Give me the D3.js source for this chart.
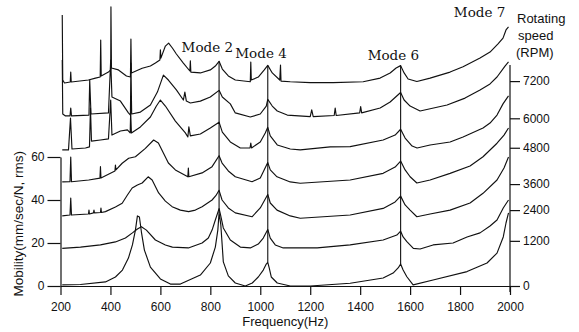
<!DOCTYPE html>
<html>
<head>
<meta charset="utf-8">
<script src="https://cdn.jsdelivr.net/npm/d3@7"></script>
<style>
  body { margin: 0; background: #fff; }
  svg { display: block; }
</style>
</head>
<body>
<div id="chart"></div>
<script>
// tick values
const freqTicks = [200, 400, 600, 800, 1000, 1200, 1400, 1600, 1800, 2000]
const mobilityTicks = [0, 20, 40, 60]
const rpmSpeeds = [0, 1200, 2400, 3600, 4800, 6000, 7200]
// mobility level (left axis units) where each rpm tick sits
const rpmLevels = [0, 21, 35.3, 47.4, 64.3, 78, 95.3]
// resonance frequencies marked through the stack
const modeFreqs = [835, 1030, 1562]

// spectra, [frequency Hz, mobility incl. waterfall offset]
const spectrum0 = [
  [207, 0.5], [280, 0.7], [380, 1.9], [420, 4.2], [448, 7.4], [472, 13.0], [488, 19.1],
  [500, 26.0], [508, 32.6], [516, 32.1], [524, 25.1], [536, 16.7], [560, 8.8], [600, 3.3],
  [640, 0.9], [680, 0.9], [760, 5.1], [800, 10.7], [820, 18.1], [830, 26.0], [835, 34.0],
  [842, 28.4], [852, 11.2], [872, 4.7], [900, 1.4], [940, 0], [968, 1.4], [992, 4.2],
  [1012, 7.4], [1024, 10.2], [1030, 11.0], [1036, 8.3], [1044, 4.2], [1068, 1.4], [1120, 0], [1200, 0],
  [1360, 1.3], [1492, 3.7], [1532, 6.0], [1552, 8.4], [1562, 10.2], [1572, 7.4], [1587, 4.3],
  [1612, 0.5], [1692, 2.8], [1828, 6.7], [1908, 10.7], [1948, 15.3], [1973, 22.8],
  [1984, 29.3], [1994, 34.0]
]
const spectrum1200 = [
  [207, 17.5], [280, 18.1], [360, 19.1], [420, 20.5], [460, 22.3], [488, 24.7], [508, 26.5],
  [524, 27.6], [544, 26.0], [580, 21.4], [620, 19.1], [648, 18.1], [712, 17.7], [767, 20.0],
  [792, 22.3], [807, 26.0], [820, 30.7], [835, 36.0], [840, 33.5], [852, 27.0], [880, 21.4],
  [920, 18.1], [960, 17.7], [992, 19.5], [1012, 22.3], [1030, 26.3], [1040, 22.3],
  [1060, 19.1], [1092, 17.7], [1228, 17.7], [1360, 19.1], [1492, 21.4], [1547, 23.7],
  [1562, 25.5], [1572, 22.8], [1587, 20.6], [1613, 17.5], [1640, 17.2], [1692, 19.1],
  [1772, 20.0], [1828, 22.8], [1880, 24.7], [1920, 27.9], [1948, 30.7], [1973, 36.3],
  [1994, 40.0]
]
const spectrum2400 = [
  [207, 32.6], [238, 33.0], [241, 40.9], [244, 33.0], [312, 33.5], [314, 35.3], [316, 33.5],
  [332, 34.0], [334, 35.3], [336, 34.0], [360, 34.2], [362, 36.3], [364, 34.2], [380, 34.6],
  [420, 36.7], [447, 38.5], [468, 42.3], [487, 45.6], [508, 47.0], [527, 47.9], [551, 50.8],
  [567, 49.3], [593, 43.3], [620, 39.5], [647, 36.9], [680, 35.3], [713, 34.6], [740, 35.3],
  [767, 36.9], [807, 40.0], [822, 42.0], [835, 44.5], [847, 40.0], [872, 36.3], [900, 34.0],
  [967, 32.2], [1000, 36.3], [1030, 42.6], [1040, 38.6], [1067, 35.3], [1120, 32.6],
  [1160, 31.5], [1360, 33.0], [1492, 36.1], [1540, 39.1], [1562, 41.8], [1580, 37.7],
  [1600, 35.3], [1627, 32.2], [1680, 33.5], [1760, 35.3], [1840, 38.6], [1892, 43.1],
  [1948, 49.3], [1976, 54.9], [1994, 60.0]
]
const spectrum3600 = [
  [207, 48.4], [238, 48.5], [241, 60.0], [244, 48.5], [313, 49.3], [358, 50.2], [360, 55.5],
  [362, 50.2], [418, 53.5], [420, 56.3], [422, 54.0], [447, 57.1], [473, 59.4], [500, 60.1],
  [540, 64.0], [573, 67.9], [592, 66.5], [612, 61.9], [632, 57.2], [660, 54.0], [710, 50.8],
  [712, 54.9], [714, 50.8], [767, 52.6], [807, 55.5], [835, 60.6], [847, 57.2], [872, 53.5],
  [900, 50.8], [967, 48.5], [1000, 50.2], [1030, 57.4], [1040, 54.0], [1067, 50.8],
  [1120, 48.4], [1160, 47.8], [1360, 49.3], [1492, 52.4], [1540, 55.3], [1562, 58.1],
  [1580, 54.0], [1600, 50.8], [1627, 47.9], [1680, 49.3], [1760, 52.4], [1840, 55.8],
  [1892, 60.1], [1948, 66.4], [1976, 70.2], [1994, 73.5]
]
const spectrum4800 = [
  [207, 63.3], [232, 63.3], [240, 78.1], [246, 63.7], [300, 64.2], [316, 64.7], [320, 82.8],
  [324, 67.4], [360, 67.9], [392, 68.4], [401, 86.5], [406, 70.2], [440, 72.1], [468, 72.6],
  [479, 71.2], [481, 80.9], [484, 71.2], [520, 74.0], [560, 78.6], [584, 83.7], [600, 86.5],
  [620, 83.7], [660, 76.7], [700, 71.2], [710, 69.3], [714, 74.0], [720, 69.8], [760, 70.7],
  [800, 73.5], [835, 76.2], [848, 71.6], [880, 67.0], [920, 64.2], [959, 64.2], [962, 66.5],
  [965, 64.2], [1000, 67.0], [1020, 71.2], [1030, 73.8], [1040, 69.8], [1068, 65.6],
  [1120, 63.7], [1160, 63.3], [1280, 64.7], [1360, 64.8], [1492, 67.9], [1540, 70.2],
  [1562, 72.9], [1580, 68.8], [1608, 65.1], [1628, 64.2], [1680, 65.6], [1760, 67.0],
  [1812, 69.3], [1892, 73.5], [1920, 75.8], [1948, 79.5], [1972, 84.7], [1994, 88.4]
]
const spectrum6000 = [
  [207, 105.1], [209, 80.0], [220, 79.1], [238, 79.1], [241, 82.8], [244, 79.1], [314, 79.5],
  [317, 95.8], [322, 80.0], [392, 80.5], [401, 105.1], [406, 87.9], [440, 86.0], [472, 80.5],
  [480, 79.5], [482, 103.7], [485, 80.0], [520, 80.9], [560, 84.2], [588, 90.2], [612, 98.1],
  [632, 95.8], [664, 91.2], [692, 86.5], [698, 90.2], [704, 86.0], [720, 85.1], [760, 86.0],
  [800, 87.9], [835, 91.0], [848, 87.9], [880, 84.7], [900, 80.5], [960, 78.6], [1000, 80.0],
  [1024, 83.7], [1030, 86.8], [1048, 83.7], [1068, 81.4], [1108, 79.5], [1200, 78.8],
  [1206, 81.9], [1212, 78.8], [1296, 79.3], [1300, 82.8], [1304, 79.3], [1398, 80.5],
  [1402, 83.4], [1406, 80.5], [1480, 82.8], [1520, 85.6], [1562, 90.0], [1576, 86.5],
  [1600, 83.7], [1640, 81.4], [1748, 84.2], [1820, 87.4], [1880, 91.2], [1920, 94.0],
  [1948, 97.2], [1980, 102.3], [1994, 104.2]
]
const spectrum7200 = [
  [207, 126.0], [209, 95.8], [216, 94.4], [239, 94.9], [241, 99.5], [243, 94.9], [312, 95.8],
  [340, 96.7], [359, 97.2], [361, 114.4], [363, 97.7], [392, 99.5], [401, 100.5], [402, 129.8],
  [404, 101.4], [432, 100.5], [464, 97.7], [480, 97.2], [482, 114.9], [484, 99.1], [527, 101.3],
  [560, 102.3], [580, 103.7], [598, 105.1], [600, 109.8], [602, 106.0], [620, 111.6],
  [633, 113.0], [648, 110.7], [664, 107.9], [692, 103.7], [718, 100.0], [720, 104.7],
  [722, 99.5], [760, 99.1], [800, 100.5], [820, 102.3], [835, 104.5], [848, 100.9],
  [872, 97.7], [900, 95.8], [960, 95.0], [962, 104.2], [964, 95.8], [992, 97.2], [1016, 100.5],
  [1030, 102.6], [1048, 99.1], [1078, 95.8], [1081, 102.8], [1083, 95.3], [1120, 95.0],
  [1200, 94.6], [1292, 94.6], [1412, 95.0], [1480, 96.7], [1520, 99.1], [1544, 101.4],
  [1562, 102.5], [1576, 99.1], [1592, 96.3], [1627, 95.1], [1680, 96.7], [1760, 99.5],
  [1812, 102.0], [1880, 106.0], [1920, 108.8], [1952, 112.6], [1972, 115.3], [1984, 119.1],
  [1994, 120.5]
]

const spectra = [spectrum0, spectrum1200, spectrum2400, spectrum3600, spectrum4800, spectrum6000, spectrum7200]

const width = 579
const height = 332
const sans = "'Liberation Sans', Arial, sans-serif"
const serif = "'DejaVu Serif', serif"
const ink = '#111'

const svg = d3
  .select('#chart')
  .append('svg')
  .attr('width', width)
  .attr('height', height)
  .style('background', '#fff')

const xScale = d3.scaleLinear().domain([200, 2000]).range([60.5, 510])
const yScale = d3.scaleLinear().domain([0, 60]).range([286, 157])
const rpmScale = d3.scaleLinear().domain(rpmSpeeds).range(rpmLevels.map((v) => yScale(v)))

const styleTicks = (g) => {
  g.selectAll('.tick>line').attr('stroke', ink).attr('stroke-width', 1.2)
  g.selectAll('.tick>text')
    .style('font-family', sans)
    .style('font-size', '12px')
    .attr('fill', ink)
}

const xAxis = (g) => {
  g.attr('transform', `translate(0, ${yScale(0)})`)
    .call(d3.axisBottom(xScale).tickValues(freqTicks).tickSize(9).tickPadding(7).tickSizeOuter(0).tickFormat(d3.format('d')))
    .call((g) => g.select('.domain').attr('stroke', ink).attr('stroke-width', 1.2))
    .call(styleTicks)
}

const yAxisLeft = (g) => {
  g.attr('transform', `translate(${xScale(200)}, 0)`)
    .call(d3.axisLeft(yScale).tickValues(mobilityTicks).tickSize(13).tickPadding(3).tickSizeOuter(0))
    .call((g) => g.select('.domain').attr('stroke', ink).attr('stroke-width', 1.2))
    .call(styleTicks)
}

const rpmAxis = (g) => {
  g.attr('transform', `translate(${xScale(2000)}, 0)`)
    .call(d3.axisRight(rpmScale).tickValues(rpmSpeeds).tickSize(10).tickPadding(3).tickFormat(d3.format('d')))
    .call((g) => g.select('.domain').remove())
    .call(styleTicks)
  g.append('line')
    .attr('y1', yScale(102.8))
    .attr('y2', yScale(-2.8))
    .attr('stroke', ink)
    .attr('stroke-width', 1.2)
}

// spectra
const line = d3
  .line()
  .x((d) => xScale(d[0]))
  .y((d) => yScale(d[1]))

svg
  .selectAll('.spectrum')
  .data(spectra)
  .join('path')
  .attr('class', 'spectrum')
  .attr('fill', 'none')
  .attr('stroke', ink)
  .attr('stroke-width', 1.15)
  .attr('stroke-linejoin', 'round')
  .attr('d', line)

// vertical resonance tracks joining the peaks of the lowest and highest spectrum
const peakAt = (spec, f) => d3.max(spec.filter((d) => Math.abs(d[0] - f) <= 3), (d) => d[1])
svg
  .selectAll('.modeTrack')
  .data(modeFreqs)
  .join('line')
  .attr('class', 'modeTrack')
  .attr('x1', (f) => xScale(f))
  .attr('x2', (f) => xScale(f))
  .attr('y1', (f) => yScale(peakAt(spectrum0, f)))
  .attr('y2', (f) => yScale(peakAt(spectrum7200, f)))
  .attr('stroke', ink)
  .attr('stroke-width', 1.1)

svg.append('g').call(xAxis)
svg.append('g').call(yAxisLeft)
svg.append('g').call(rpmAxis)

// axis titles
svg
  .append('text')
  .attr('transform', `translate(23, ${yScale(29)}) rotate(-90)`)
  .attr('text-anchor', 'middle')
  .style('font-family', sans)
  .style('font-size', '13.5px')
  .attr('fill', ink)
  .text('Mobility(mm/sec/N, rms)')

svg
  .append('text')
  .attr('x', xScale(1100))
  .attr('y', 326)
  .attr('text-anchor', 'middle')
  .style('font-family', sans)
  .style('font-size', '13px')
  .attr('fill', ink)
  .text('Frequency(Hz)')

const rpmTitle = svg
  .append('text')
  .style('font-family', sans)
  .style('font-size', '13px')
  .attr('fill', ink)
rpmTitle.append('tspan').attr('x', 517).attr('y', 23).text('Rotating')
rpmTitle.append('tspan').attr('x', 518).attr('y', 40).text('speed')
rpmTitle.append('tspan').attr('x', 516).attr('y', 57).text('(RPM)')

// mode annotations (frequency where the label starts, mobility level of baseline)
const modeNotes = [
  { text: 'Mode 2', f: 685, v: 108.8 },
  { text: 'Mode 4', f: 900, v: 106 },
  { text: 'Mode 6', f: 1430, v: 105.3 },
  { text: 'Mode 7', f: 1775, v: 125 }
]

svg
  .selectAll('.mode')
  .data(modeNotes)
  .join('text')
  .attr('class', 'mode')
  .attr('x', (d) => xScale(d.f))
  .attr('y', (d) => yScale(d.v))
  .style('font-family', serif)
  .style('font-size', '13.5px')
  .attr('fill', ink)
  .text((d) => d.text)
</script>
</body>
</html>
